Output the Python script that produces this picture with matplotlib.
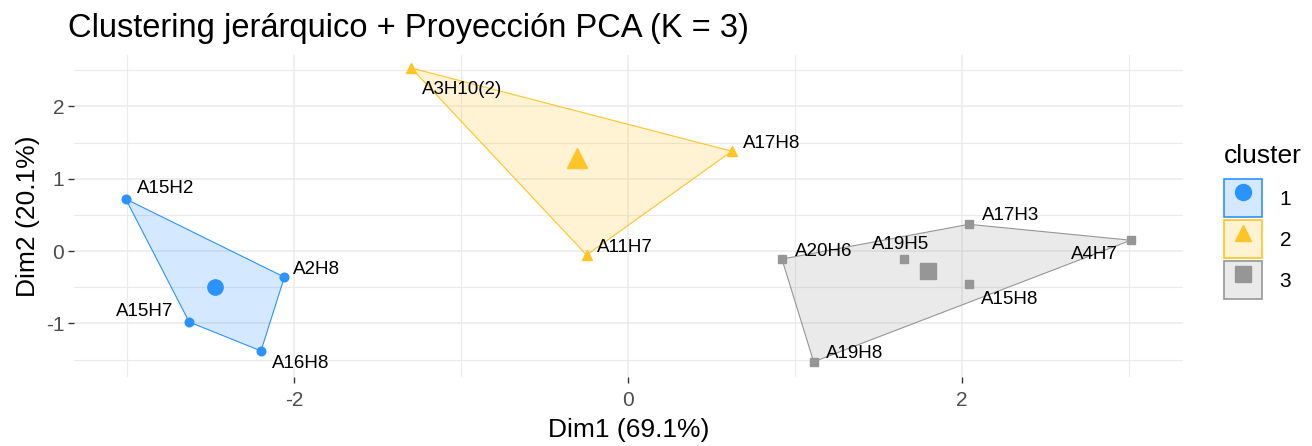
import numpy as np
import matplotlib.pyplot as plt
from matplotlib.patches import Polygon, Patch
from matplotlib.lines import Line2D
from matplotlib.colors import to_rgb

plt.rcParams['font.family'] = ['Liberation Sans', 'DejaVu Sans']
plt.rcParams['axes.unicode_minus'] = False

# Data (PCA coordinates)
labels_1 = ['A15H2', 'A2H8', 'A15H7', 'A16H8']
dim1_1 = [-3.01, -2.06, -2.63, -2.20]
dim2_1 = [0.72, -0.36, -0.98, -1.38]

labels_2 = ['A3H10(2)', 'A17H8', 'A11H7']
dim1_2 = [-1.30, 0.62, -0.25]
dim2_2 = [2.53, 1.38, -0.055]

labels_3 = ['A20H6', 'A19H5', 'A17H3', 'A4H7', 'A15H8', 'A19H8']
dim1_3 = [0.92, 1.65, 2.04, 3.01, 2.04, 1.11]
dim2_3 = [-0.11, -0.11, 0.37, 0.15, -0.46, -1.53]

cluster_names = ['1', '2', '3']
colors = ['#2A93FF', '#FFC425', '#969696']
markers = ['o', '^', 's']
point_sizes = [6.2, 7, 6]
centroid_sizes = [11, 14, 11]

# label offsets (pixels) mimicking ggrepel placement
offsets_1 = [(11, 10, 'left'), (9, 8, 'left'), (-16, 11, 'right'), (11, -13, 'left')]
offsets_2 = [(11, -21, 'left'), (11, 8, 'left'), (10, 8, 'left')]
offsets_3 = [(13, 8, 'left'), (-32, 15, 'left'), (13, 9, 'left'), (-13, -14, 'right'),
             (12, -15, 'left'), (12, 8, 'left')]

groups = [(labels_1, dim1_1, dim2_1, offsets_1),
          (labels_2, dim1_2, dim2_2, offsets_2),
          (labels_3, dim1_3, dim2_3, offsets_3)]


def convex_hull(pts):
    pts = sorted(map(tuple, pts))
    def cross(o, a, b):
        return (a[0] - o[0]) * (b[1] - o[1]) - (a[1] - o[1]) * (b[0] - o[0])
    lower, upper = [], []
    for p in pts:
        while len(lower) >= 2 and cross(lower[-2], lower[-1], p) <= 0:
            lower.pop()
        lower.append(p)
    for p in reversed(pts):
        while len(upper) >= 2 and cross(upper[-2], upper[-1], p) <= 0:
            upper.pop()
        upper.append(p)
    return np.array(lower[:-1] + upper[:-1])


fig = plt.figure(figsize=(13.12, 4.46), dpi=100)
ax = fig.add_axes([0.0564, 0.1547, 0.845, 0.722])

for (labs, xs, ys, offs), col, mk, ps, cs in zip(groups, colors, markers, point_sizes, centroid_sizes):
    pts = np.column_stack([xs, ys])
    hull = convex_hull(pts)
    ax.add_patch(Polygon(hull, closed=True, facecolor=col, alpha=0.2, edgecolor='none', zorder=2))
    ax.add_patch(Polygon(hull, closed=True, facecolor='none', edgecolor=col, lw=0.8, zorder=2))
    ax.plot(xs, ys, linestyle='none', marker=mk, color=col, markersize=ps, zorder=3)
    ax.plot(np.mean(xs), np.mean(ys), marker=mk, color=col, markersize=cs, zorder=3)
    for lab, x, y, (dx, dy, ha) in zip(labs, xs, ys, offs):
        ax.annotate(lab, (x, y), xytext=(dx, dy), textcoords='offset pixels',
                    ha=ha, va='center', fontsize=13.5, color='black', zorder=4)

ax.set_xlim(-3.32, 3.32)
ax.set_ylim(-1.74, 2.71)
ax.set_xticks([-2, 0, 2])
ax.set_yticks([-1, 0, 1, 2])
ax.set_xticks([-3, -1, 1, 3], minor=True)
ax.set_yticks([-1.5, -0.5, 0.5, 1.5, 2.5], minor=True)
ax.grid(True, which='major', color='#EBEBEB', lw=1.1, zorder=0)
ax.grid(True, which='minor', color='#EBEBEB', lw=0.8, zorder=0)
ax.set_axisbelow(True)
for s in ax.spines.values():
    s.set_visible(False)
ax.tick_params(which='major', length=4, width=1, color='#333333', labelsize=15,
               labelcolor='#4D4D4D')
ax.tick_params(axis='x', pad=6)
ax.tick_params(axis='y', pad=3)
ax.tick_params(which='minor', length=0)

ax.set_xlabel('Dim1 (69.1%)', fontsize=19, labelpad=6)
ax.set_ylabel('Dim2 (20.1%)', fontsize=19, labelpad=4)
fig.text(0.052, 0.935, 'Clustering jerárquico + Proyección PCA (K = 3)', fontsize=23.5,
         ha='left', va='center')

handles = []
for col, mk in zip(colors, markers):
    p = Patch(facecolor=(*to_rgb(col), 0.2), edgecolor=col, lw=1.2)
    m = Line2D([], [], linestyle='none', marker=mk, color=col, markersize=11.5)
    handles.append((p, m))
leg = fig.legend(handles, cluster_names, title='cluster', loc='upper left',
                 bbox_to_anchor=(0.9265, 0.695), frameon=False, fontsize=15,
                 title_fontsize=19, handlelength=1.83, handleheight=2.43,
                 labelspacing=0.14, handletextpad=0.85, borderaxespad=0)
leg._legend_box.align = 'left'
leg._legend_box.sep = 8

fig.savefig('out.png', dpi=100)
